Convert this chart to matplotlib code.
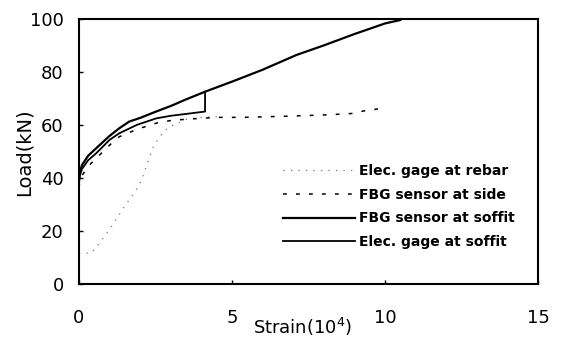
import matplotlib.pyplot as plt
import numpy as np

# strain (1e-4) and load (kN)
rebar_x = [0.0, 0.41, 0.79, 1.01, 1.34, 1.56, 1.83, 2.05, 2.16, 2.30, 2.43, 2.76, 2.97, 3.52, 4.0, 4.6]
rebar_y = [11.5, 11.8, 17.3, 20.8, 26.7, 30.5, 34.9, 39.3, 43.1, 47.9, 51.9, 57.6, 59.5, 62.3, 63.0, 63.3]

side_x = [0.0, 0.03, 0.1, 0.3, 0.56, 1.0, 1.32, 1.9, 2.52, 3.0, 3.52, 4.5, 5.37, 7.0, 8.2, 8.97, 9.29, 9.67, 10.06]
side_y = [36.5, 39.0, 41.0, 44.5, 47.5, 52.5, 55.7, 58.5, 60.8, 61.8, 62.3, 63.0, 63.0, 63.5, 64.0, 64.5, 65.4, 66.0, 66.8]

fbg_soffit_x = [0.0, 0.03, 0.1, 0.3, 0.56, 1.0, 1.32, 1.64, 2.0, 2.52, 3.0, 3.5, 4.12, 5.0, 6.0, 7.11, 8.0, 9.0, 10.0, 10.5]
fbg_soffit_y = [40.0, 42.5, 45.0, 48.5, 51.3, 56.0, 58.9, 61.4, 62.8, 65.2, 67.3, 69.8, 72.7, 76.5, 81.0, 86.6, 90.2, 94.5, 98.5, 99.8]

elec_soffit_x = [0.0, 0.03, 0.1, 0.3, 0.56, 1.0, 1.32, 1.9, 2.52, 3.0, 3.5, 4.12, 4.12]
elec_soffit_y = [38.0, 41.0, 43.5, 46.8, 49.4, 54.5, 57.0, 60.2, 62.6, 63.6, 64.3, 65.2, 72.7]

xticks = [0, 5, 10, 15]
yticks = [0, 20, 40, 60, 80, 100]

fig = plt.figure(figsize=(5.61, 3.45), dpi=100)
ax = fig.add_axes([0.1408, 0.1768, 0.8182, 0.7667])

ax.plot(rebar_x, rebar_y, color='#777777', lw=0.9, ls=(0, (1, 5)), label='Elec. gage at rebar')
ax.plot(side_x, side_y, color='black', lw=1.1, ls=(0, (2.5, 6)), label='FBG sensor at side')
ax.plot(fbg_soffit_x, fbg_soffit_y, color='black', lw=1.6, label='FBG sensor at soffit')
ax.plot(elec_soffit_x, elec_soffit_y, color='black', lw=1.3, label='Elec. gage at soffit')

ax.set_xlim(0, 15)
ax.set_ylim(0, 100)
ax.set_xticks(xticks)
ax.set_yticks(yticks)
ax.tick_params(axis='both', direction='in', length=3, width=1, labelsize=13)
ax.tick_params(axis='x', pad=18)
ax.tick_params(axis='y', pad=11)
for s in ax.spines.values():
    s.set_linewidth(1.5)

ax.set_xlabel('Strain(10$^{4}$)', fontsize=13)
ax.xaxis.set_label_coords(0.488, -0.12)
ax.set_ylabel('Load(kN)', fontsize=14)
ax.yaxis.set_label_coords(-0.098, 0.5)

leg = ax.legend(loc='upper left', bbox_to_anchor=(0.417, 0.5), frameon=False,
                handlelength=5.2, handletextpad=0.3, labelspacing=0.69,
                prop={'weight': 'bold', 'size': 10})

fig.savefig('out.png', dpi=100)
plt.close(fig)
